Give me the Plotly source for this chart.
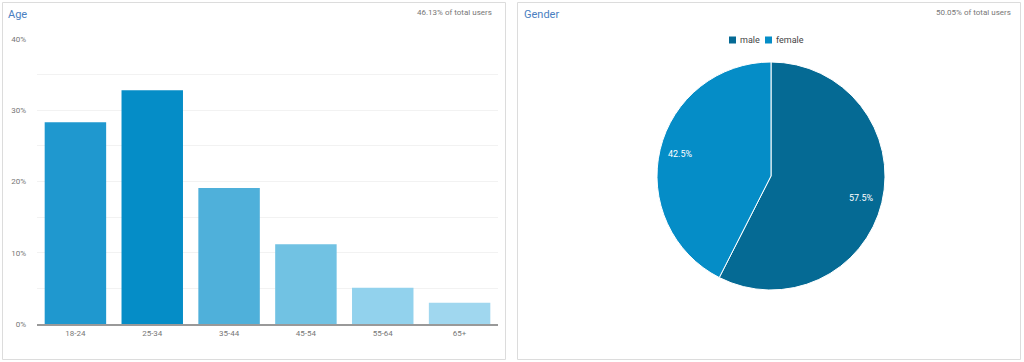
import math
import plotly.graph_objects as go

age_groups = ["18-24", "25-34", "35-44", "45-54", "55-64", "65+"]
age_share = [28.3, 32.8, 19.1, 11.2, 5.1, 3.0]
age_colors = ["#1f98cf", "#058dc7", "#4fb0da", "#71c2e3", "#92d2ed", "#a0d7ef"]

genders = ["male", "female"]
gender_share = [57.5, 42.5]
gender_colors = ["#056a94", "#058dc7"]

W, H = 1024, 362

def px(x):
    return x / W

def py(y):
    return 1 - y / H

font_fam = "Roboto, Arial, sans-serif"

fig = go.Figure()

fig.add_trace(go.Bar(
    x=age_groups, y=age_share,
    marker=dict(color=age_colors, line=dict(width=0)),
    showlegend=False, hoverinfo="x+y",
    xaxis="x", yaxis="y",
))

pie_x0, pie_x1, pie_y0, pie_y1 = 657, 885, 62, 290
fig.add_trace(go.Pie(
    labels=genders, values=gender_share,
    marker=dict(colors=gender_colors, line=dict(color="white", width=1)),
    sort=False, direction="clockwise", rotation=0,
    textinfo="none",
    domain=dict(x=[px(pie_x0), px(pie_x1)], y=[py(pie_y1), py(pie_y0)]),
    showlegend=False, hoverinfo="label+percent",
))

# slice labels placed from the data (mid-angle of each slice, 82% of radius)
cx, cy = (pie_x0 + pie_x1) / 2, (pie_y0 + pie_y1) / 2
r = (pie_x1 - pie_x0) / 2
total = sum(gender_share)
start = 0.0
slice_labels = []
for v in gender_share:
    mid = (start + v / 2) / total * 2 * math.pi
    start += v
    lx = cx + 0.82 * r * math.sin(mid)
    ly = cy - 0.82 * r * math.cos(mid)
    slice_labels.append(dict(text=f"{v / total * 100:.1f}%", x=px(lx), y=py(ly),
                             xref="paper", yref="paper", showarrow=False,
                             xanchor="center", yanchor="middle",
                             font=dict(size=9, color="white", family=font_fam)))

# compact legend (square + label) for the pie
legend_x = [729, 765]
legend_y = 40
legend_items_shapes = []
legend_items_text = []
for name, col, lx in zip(genders, gender_colors, legend_x):
    legend_items_shapes.append(dict(type="rect", xref="paper", yref="paper",
                                    x0=px(lx), x1=px(lx + 7), y0=py(legend_y + 3.5), y1=py(legend_y - 3.5),
                                    line=dict(width=0), fillcolor=col))
    legend_items_text.append(dict(text=name, x=px(lx + 9), y=py(legend_y), xref="paper", yref="paper",
                                  xanchor="left", yanchor="middle", showarrow=False,
                                  font=dict(size=9, color="#444", family=font_fam)))

shapes = [
    dict(type="rect", xref="paper", yref="paper",
         x0=px(2.5), x1=px(505.5), y0=py(359.5), y1=py(2.5),
         line=dict(color="#dcdcdc", width=1), fillcolor="rgba(0,0,0,0)", layer="below"),
    dict(type="rect", xref="paper", yref="paper",
         x0=px(517.5), x1=px(1020.5), y0=py(359.5), y1=py(2.5),
         line=dict(color="#dcdcdc", width=1), fillcolor="rgba(0,0,0,0)", layer="below"),
] + legend_items_shapes

annotations = [
    dict(text="Age", x=px(6), y=py(14), xref="paper", yref="paper",
         xanchor="left", yanchor="middle", showarrow=False,
         font=dict(size=11, color="#4a7fc1", family=font_fam)),
    dict(text="46.13% of total users", x=px(494), y=py(12), xref="paper", yref="paper",
         xanchor="right", yanchor="middle", showarrow=False,
         font=dict(size=8, color="#777", family=font_fam)),
    dict(text="Gender", x=px(522), y=py(14), xref="paper", yref="paper",
         xanchor="left", yanchor="middle", showarrow=False,
         font=dict(size=11, color="#4a7fc1", family=font_fam)),
    dict(text="50.05% of total users", x=px(1013), y=py(12), xref="paper", yref="paper",
         xanchor="right", yanchor="middle", showarrow=False,
         font=dict(size=8, color="#777", family=font_fam)),
] + slice_labels + legend_items_text

fig.update_layout(
    width=W, height=H,
    margin=dict(l=0, r=0, t=0, b=0, pad=0),
    paper_bgcolor="white", plot_bgcolor="white",
    font=dict(family=font_fam, size=8, color="#666"),
    bargap=0.2,
    showlegend=False,
    xaxis=dict(domain=[px(37), px(498)], anchor="y", automargin=False,
               showgrid=False, showline=True, linecolor="#999", linewidth=2,
               ticks="", tickfont=dict(size=8, color="#777"), fixedrange=True),
    yaxis=dict(domain=[py(324), py(39)], anchor="x", range=[0, 40], automargin=False,
               tickvals=[0, 5, 10, 15, 20, 25, 30, 35, 40],
               ticktext=["0%", "", "10%", "", "20%", "", "30%", "", "40%"],
               showgrid=True, gridcolor="#f2f2f2", gridwidth=1,
               zeroline=False, showline=False, ticks="",
               tickfont=dict(size=8, color="#777"), ticklabelstandoff=10,
               fixedrange=True),
    shapes=shapes,
    annotations=annotations,
)

fig.write_html("out.html", config={"displayModeBar": False},
               post_script="document.body.style.margin='0';document.body.style.overflow='hidden';")
